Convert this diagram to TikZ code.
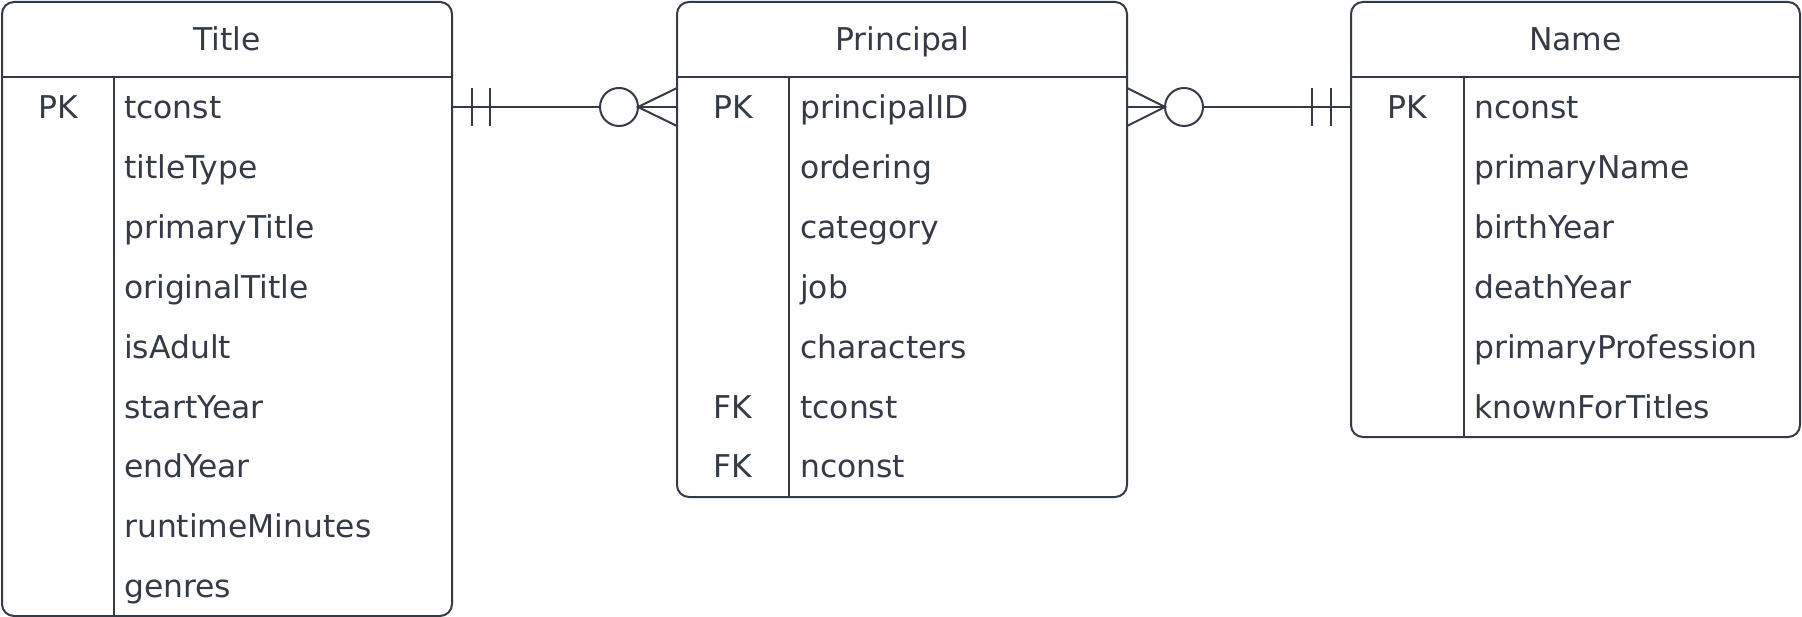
\documentclass[tikz,border=0pt]{standalone}
\usepackage{fontspec}
\setmainfont{DejaVu Sans}
\usetikzlibrary{calc}
\definecolor{ink}{HTML}{343A46}
\begin{document}
\begin{tikzpicture}[x=1pt,y=-1pt,
  tbl/.style={draw=ink, line width=2pt, rounded corners=12pt, inner sep=0pt, outer sep=0pt, anchor=north west},
  rule/.style={draw=ink, line width=2pt},
  conn/.style={draw=ink, line width=2pt},
  txt/.style={font=\fontsize{31.4}{36}\selectfont, text=ink, inner sep=0pt},
  key/.style={txt, anchor=base},
  fld/.style={txt, anchor=base west},
  hdr/.style={txt, anchor=base}]
\useasboundingbox (0,0) rectangle (1802,617);

% Title table
\node[tbl, minimum width=450pt, minimum height=614pt] (title) at (2,2) {};
\draw[rule] (2,77) -- (452,77);
\draw[rule] (114,77) -- (114,616);
\node[hdr] (titlehdr) at (227,51) {Title};
\node[key] (tpk) at (58,118.5) {PK};
\coordinate (t1) at (58,107);
\foreach \f [count=\i] in {tconst,titleType,primaryTitle,originalTitle,isAdult,startYear,endYear,runtimeMinutes,genres}
  \node[fld] (tf\i) at (124,{118.5+59.9*(\i-1)}) {\f};

% Principal table
\node[tbl, minimum width=450pt, minimum height=495pt] (principal) at (677,2) {};
\draw[rule] (677,77) -- (1127,77);
\draw[rule] (789,77) -- (789,497);
\node[hdr] (principalhdr) at (902,51) {Principal};
\coordinate (p1) at (733,107);
\node[key] (ppk) at (733,118.5) {PK};
\node[key] (pfk1) at (733,{118.5+59.9*5}) {FK};
\node[key] (pfk2) at (733,{118.5+59.9*6}) {FK};
\foreach \f [count=\i] in {principalID,ordering,category,job,characters,tconst,nconst}
  \node[fld] (pf\i) at (800,{118.5+59.9*(\i-1)}) {\f};

% Name table
\node[tbl, minimum width=449pt, minimum height=435pt] (name) at (1351,2) {};
\draw[rule] (1351,77) -- (1800,77);
\draw[rule] (1464,77) -- (1464,437);
\node[hdr] (namehdr) at (1575.5,51) {Name};
\coordinate (n1) at (1407.5,107);
\node[key] (npk) at (1407.5,118.5) {PK};
\foreach \f [count=\i] in {nconst,primaryName,birthYear,deathYear,primaryProfession,knownForTitles}
  \node[fld] (nf\i) at (1474,{118.5+59.9*(\i-1)}) {\f};

% Connector Title -- Principal (one-and-only-one to zero-or-many)
\coordinate (a) at (title.east |- t1);
\coordinate (b) at (principal.west |- p1);
\draw[conn] (a) -- ($(b)+(-77,0)$);
\draw[conn] ($(a)+(20,-19)$) -- ($(a)+(20,19)$);
\draw[conn] ($(a)+(38,-19)$) -- ($(a)+(38,19)$);
\draw[conn] ($(b)+(-58,0)$) circle[radius=19pt];
\draw[conn] ($(b)+(0,-19)$) -- ($(b)+(-39,0)$) -- ($(b)+(0,19)$);
\draw[conn] ($(b)+(-39,0)$) -- (b);

% Connector Principal -- Name
\coordinate (c) at (principal.east |- p1);
\coordinate (d) at (name.west |- n1);
\draw[conn] ($(c)+(0,-19)$) -- ($(c)+(38,0)$) -- ($(c)+(0,19)$);
\draw[conn] (c) -- ($(c)+(38,0)$);
\draw[conn] ($(c)+(57,0)$) circle[radius=19pt];
\draw[conn] ($(c)+(76,0)$) -- (d);
\draw[conn] ($(d)+(-39,-19)$) -- ($(d)+(-39,19)$);
\draw[conn] ($(d)+(-20,-19)$) -- ($(d)+(-20,19)$);
\end{tikzpicture}
\end{document}
